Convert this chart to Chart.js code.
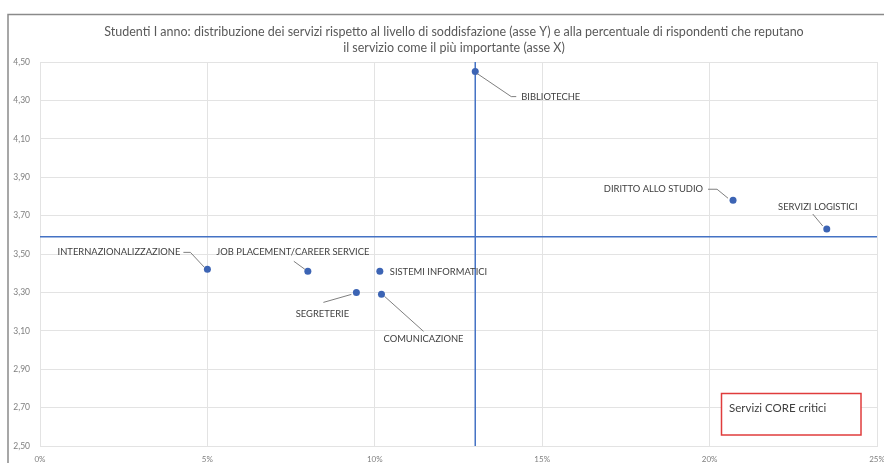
<!DOCTYPE html>
<html>
<head>
<meta charset="utf-8">
<script src="https://cdn.jsdelivr.net/npm/chart.js@4.4.1/dist/chart.umd.min.js"></script>
<style>
  html, body { margin: 0; padding: 0; background: #ffffff; }
  #wrap { position: relative; width: 884px; height: 463px; }
</style>
</head>
<body>
<div id="wrap"><canvas id="chart" width="884" height="463"></canvas></div>
<script>
// Servizi valutati dagli studenti del I anno
const services = [
  'BIBLIOTECHE',
  'DIRITTO ALLO STUDIO',
  'SERVIZI LOGISTICI',
  'INTERNAZIONALIZZAZIONE',
  'JOB PLACEMENT/CAREER SERVICE',
  'SISTEMI INFORMATICI',
  'SEGRETERIE',
  'COMUNICAZIONE'
];
// % di rispondenti che reputano il servizio il più importante (asse X)
const importance = [13.0, 20.7, 23.5, 5.0, 8.0, 10.15, 9.45, 10.2];
// livello medio di soddisfazione (asse Y)
const satisfaction = [4.45, 3.78, 3.63, 3.42, 3.41, 3.41, 3.30, 3.29];

// linee di riferimento dei quadranti
const importanceThreshold = 13.0;
const satisfactionThreshold = 3.59;

// assi
const xMin = 0, xMax = 25, xStep = 5;
const yMin = 2.5, yMax = 4.5, yStep = 0.2;

const titleLines = [
  'Studenti I anno: distribuzione dei servizi rispetto al livello di soddisfazione (asse Y) e alla percentuale di rispondenti che reputano',
  'il servizio come il più importante (asse X)'
];
const boxText = 'Servizi CORE critici';

// posizionamento delle etichette: offset del testo e della linea guida rispetto al punto
const labelLayout = [
  { dx: 46, dy: 25, align: 'left', leader: [[2, 2], [36, 25], [41, 25]] },
  { dx: -30, dy: -11, align: 'right', leader: [[-25, -11], [-16, -11], [-5, -2]] },
  { dx: -9, dy: -22, align: 'center', leader: [[-14, -15], [-4, -3]] },
  { dx: -27, dy: -17, align: 'right', leader: [[-24, -17], [-17, -17], [-3, -2]] },
  { dx: -15, dy: -19, align: 'center', leader: [[-14, -10], [-3, -2]] },
  { dx: 10, dy: 1, align: 'left', leader: null },
  { dx: -34, dy: 22, align: 'center', leader: [[-33, 10], [-5, 2]] },
  { dx: 42, dy: 45, align: 'center', leader: [[3, 2], [42, 37]] }
];

const FONT = 'Lato, "DejaVu Sans", sans-serif';
const BLUE = '#4472C4';
const DOT = '#3C64B4';

const points = services.map((s, i) => ({ x: importance[i], y: satisfaction[i] }));

const framePlugin = {
  id: 'frame',
  beforeDraw(chart) {
    const ctx = chart.ctx;
    ctx.save();
    ctx.fillStyle = '#ffffff';
    ctx.fillRect(0, 0, chart.width, chart.height);
    ctx.strokeStyle = '#8a8a8a';
    ctx.lineWidth = 1.5;
    ctx.beginPath();
    ctx.moveTo(8, chart.height);
    ctx.lineTo(8, 14.5);
    ctx.lineTo(chart.width, 14.5);
    ctx.stroke();
    // titolo
    ctx.fillStyle = '#595959';
    ctx.font = '12.5px ' + FONT;
    ctx.textAlign = 'center';
    ctx.textBaseline = 'middle';
    ctx.fillText(titleLines[0], 454, 32);
    ctx.fillText(titleLines[1], 454, 48);
    ctx.restore();
  }
};

const labelsPlugin = {
  id: 'pointLabels',
  afterDatasetsDraw(chart) {
    const ctx = chart.ctx;
    const meta = chart.getDatasetMeta(0);
    ctx.save();
    ctx.font = '9.4px ' + FONT;
    ctx.textBaseline = 'middle';
    meta.data.forEach((el, i) => {
      const L = labelLayout[i];
      const px = el.x, py = el.y;
      if (L.leader) {
        ctx.strokeStyle = '#7f7f7f';
        ctx.lineWidth = 1;
        ctx.beginPath();
        L.leader.forEach((p, k) => {
          if (k === 0) ctx.moveTo(px + p[0], py + p[1]);
          else ctx.lineTo(px + p[0], py + p[1]);
        });
        ctx.stroke();
      }
      ctx.fillStyle = '#404040';
      ctx.textAlign = L.align;
      ctx.fillText(services[i], px + L.dx, py + L.dy);
    });
    // riquadro "Servizi CORE critici"
    ctx.strokeStyle = '#E03C3C';
    ctx.lineWidth = 1.5;
    ctx.fillStyle = '#ffffff';
    ctx.fillRect(721.5, 393.5, 139.5, 41.5);
    ctx.strokeRect(721.5, 393.5, 139.5, 41.5);
    ctx.fillStyle = '#404040';
    ctx.font = '11.5px ' + FONT;
    ctx.textAlign = 'left';
    ctx.fillText(boxText, 729, 408);
    ctx.restore();
  }
};

new Chart(document.getElementById('chart'), {
  type: 'scatter',
  data: {
    datasets: [
      {
        label: 'Servizi',
        data: points,
        pointRadius: 3.5,
        pointHoverRadius: 3.5,
        pointBackgroundColor: DOT,
        pointBorderColor: DOT,
        pointBorderWidth: 0,
        order: 0
      },
      {
        type: 'line',
        label: 'Soglia importanza',
        data: [{ x: importanceThreshold, y: yMin }, { x: importanceThreshold, y: yMax }],
        borderColor: BLUE,
        borderWidth: 1.5,
        pointRadius: 0,
        fill: false,
        order: 1
      },
      {
        type: 'line',
        label: 'Soglia soddisfazione',
        data: [{ x: xMin, y: satisfactionThreshold }, { x: xMax, y: satisfactionThreshold }],
        borderColor: BLUE,
        borderWidth: 1.5,
        pointRadius: 0,
        fill: false,
        order: 1
      }
    ]
  },
  options: {
    responsive: false,
    animation: false,
    events: [],
    layout: { padding: { top: 62, left: 0, right: 7, bottom: 0 } },
    plugins: {
      legend: { display: false },
      title: { display: false },
      tooltip: { enabled: false }
    },
    scales: {
      x: {
        type: 'linear',
        min: xMin,
        max: xMax,
        afterFit(scale) {
          scale.height = 17;
          scale.paddingLeft = 0;
          scale.paddingRight = 0;
        },
        ticks: {
          stepSize: xStep,
          padding: 9,
          maxRotation: 0,
          color: '#7f7f7f',
          font: { family: FONT, size: 8 },
          callback: v => v + '%'
        },
        grid: { color: '#e3e3e3', lineWidth: 1, drawTicks: false },
        border: { display: true, color: '#e3e3e3' }
      },
      y: {
        type: 'linear',
        min: yMin,
        max: yMax,
        afterFit(scale) {
          scale.width = 40;
          scale.paddingTop = 0;
          scale.paddingBottom = 0;
        },
        ticks: {
          stepSize: yStep,
          padding: 10,
          color: '#7f7f7f',
          font: { family: FONT, size: 8.5 },
          callback: v => v.toFixed(2).replace('.', ',')
        },
        grid: { color: '#e3e3e3', lineWidth: 1, drawTicks: false },
        border: { display: true, color: '#e3e3e3' }
      }
    }
  },
  plugins: [framePlugin, labelsPlugin]
});
</script>
</body>
</html>
